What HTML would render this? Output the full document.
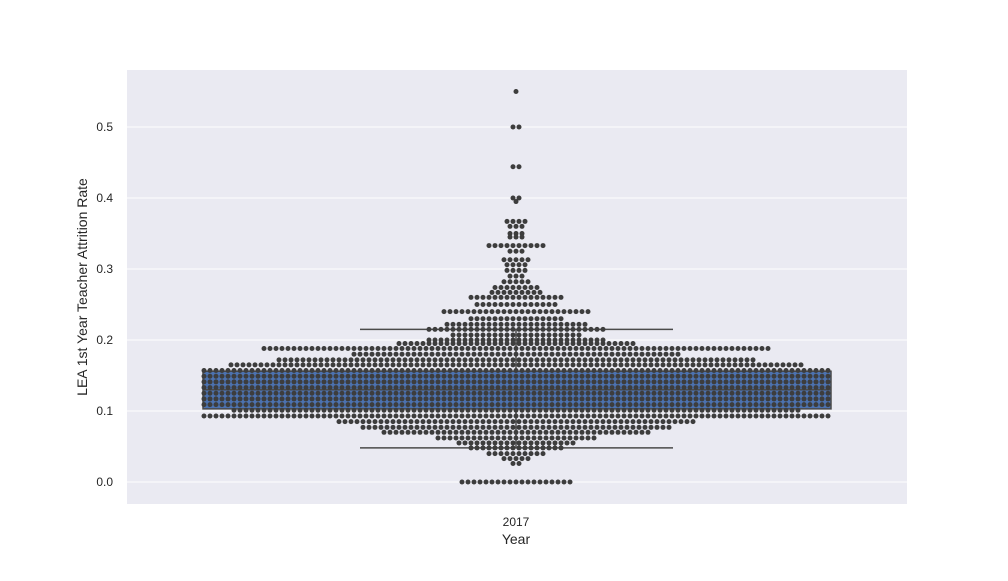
<!DOCTYPE html>
<html><head><meta charset="utf-8"><style>
body{margin:0;background:#fff;}
svg text{font-family:"Liberation Sans",sans-serif;fill:#262626;}
</style></head><body>
<svg id="c" width="1008" height="576">
<rect x="127" y="70" width="780" height="434" fill="#eaeaf2"/>
<g id="grid"></g><g id="box"></g><g id="dots"></g><g id="axes"></g>
</svg>
<script>
const category = ["2017"];
const yTicks = [0.0, 0.1, 0.2, 0.3, 0.4, 0.5];
const boxStats = {q1: 0.103, median: 0.13, q3: 0.156, whiskLo: 0.048, whiskHi: 0.215};
const rowValues = [0.55,0.5,0.444,0.40,0.395,0.367,0.36,0.35,0.345,0.333,0.325,0.313,0.306,0.298,0.29,0.282,0.274,0.267,0.26,0.25,0.24,0.23,0.222,0.215,0.207,0.2,0.195,0.188,0.18,0.172,0.165,0.157,0.149,0.141,0.133,0.125,0.117,0.109,0.101,0.093,0.085,0.077,0.07,0.062,0.055,0.048,0.04,0.033,0.026,0.0];
const rowCounts = [1,2,2,2,1,4,3,3,3,10,3,5,4,4,3,5,8,9,16,14,25,16,24,30,22,30,40,85,55,80,96,105,105,105,105,105,105,105,95,105,60,52,45,27,20,16,10,5,2,19];
const NS="http://www.w3.org/2000/svg";
const y = v => 482 - v*710;
const cx = 516, step = 6;
function mk(tag, attrs, parent){const e=document.createElementNS(NS,tag);for(const k in attrs)e.setAttribute(k,attrs[k]);parent.appendChild(e);return e;}
const grid=document.getElementById('grid'), axes=document.getElementById('axes');
yTicks.forEach(t=>{
  const l=mk('line',{x1:127,x2:907,y1:y(t),y2:y(t),stroke:'#fff','stroke-width':1},grid);
  
  
  const tx=mk('text',{x:113,y:y(t)+4,'text-anchor':'end','font-size':12},axes);
  tx.textContent=t.toFixed(1);
  
  
});
const xl=mk('text',{x:cx,y:526,'text-anchor':'middle','font-size':12},axes);xl.textContent=category[0];


const xt=mk('text',{x:cx,y:544,'text-anchor':'middle','font-size':14},axes);xt.textContent='Year';


const yt=mk('text',{x:0,y:0,'text-anchor':'middle','font-size':14,transform:'translate(87,287) rotate(-90)'},axes);yt.textContent='LEA 1st Year Teacher Attrition Rate';


const box=document.getElementById('box');
const bx1=203,bx2=831,cap1=360,cap2=673,st='#4a4a4a';
const r=mk('rect',{x:bx1,y:y(boxStats.q3),width:bx2-bx1,height:y(boxStats.q1)-y(boxStats.q3),fill:'#4c72b0',stroke:st,'stroke-width':1.5},box);


[[boxStats.median,bx1,bx2,'median-line'],[boxStats.whiskHi,cap1,cap2,'upper-cap'],[boxStats.whiskLo,cap1,cap2,'lower-cap']].forEach(a=>{
  const l=mk('line',{x1:a[1],x2:a[2],y1:y(a[0]),y2:y(a[0]),stroke:st,'stroke-width':1.5},box);
  
  
});
[[boxStats.q3,boxStats.whiskHi],[boxStats.q1,boxStats.whiskLo]].forEach(a=>{
  const l=mk('line',{x1:cx,x2:cx,y1:y(a[0]),y2:y(a[1]),stroke:st,'stroke-width':1.5},box);
  
  
});
const dots=document.getElementById('dots');
rowValues.forEach((v,i)=>{
  const n=rowCounts[i];
  for(let k=0;k<n;k++){
    const off = n%2 ? (k===0?0:Math.ceil(k/2)*(k%2?1:-1))*step : ((Math.floor(k/2)+0.5)*(k%2?1:-1))*step;
    const c=mk('circle',{cx:cx+off,cy:y(v),r:2.5,fill:'#3d3d3d'},dots);
    
    
  }
});
</script>
</body></html>
